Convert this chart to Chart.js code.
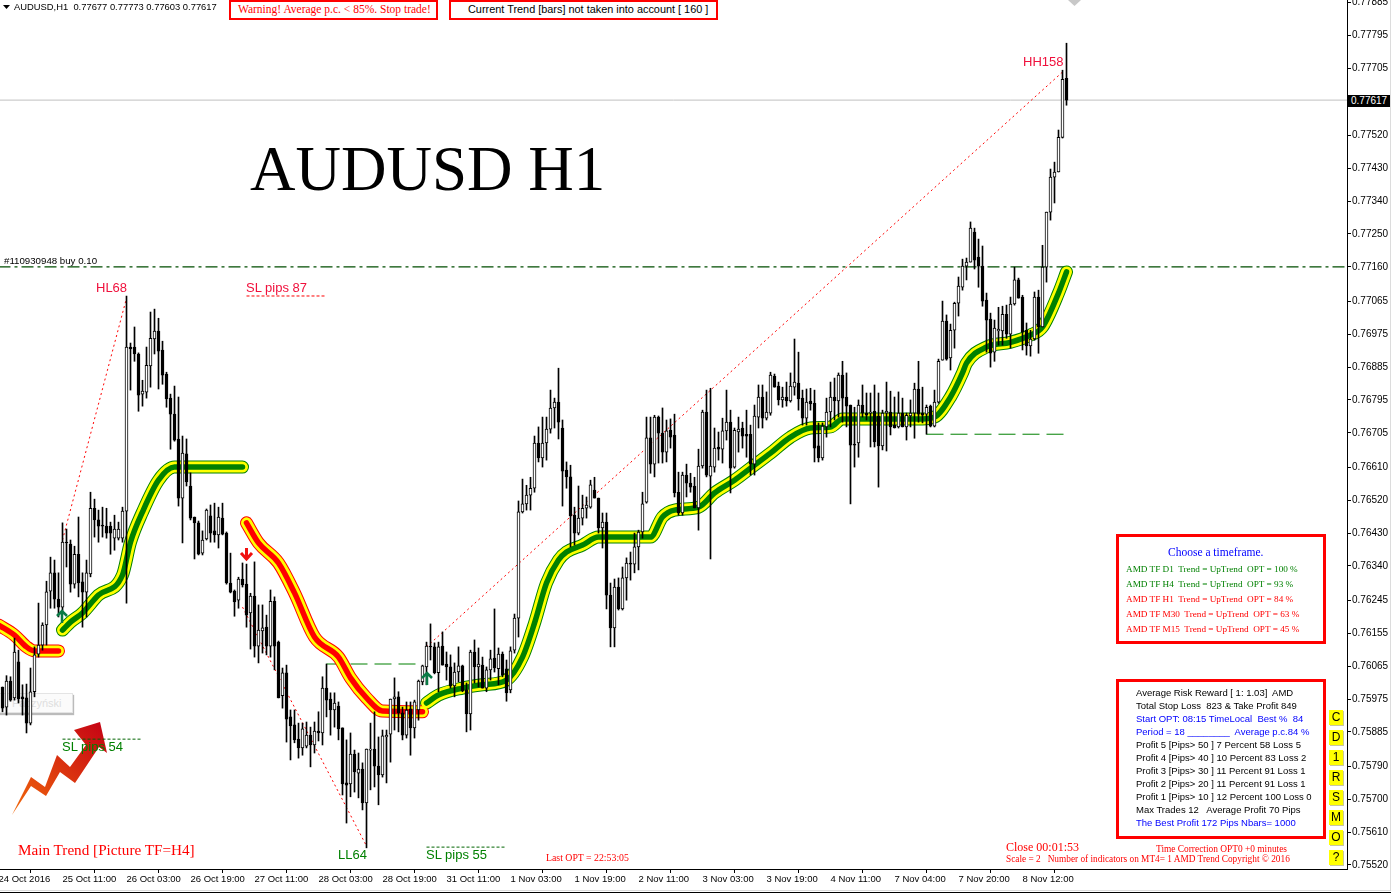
<!DOCTYPE html>
<html>
<head>
<meta charset="utf-8">
<title>AUDUSD H1</title>
<script src="https://cdn.jsdelivr.net/npm/chart.js@4"></script>
<style>
    html, body { margin: 0; background: #fff; }
    #page { position: relative; width: 1391px; height: 895px; overflow: hidden; font-family: "Liberation Sans", sans-serif; font-size: 9.5px; }
    #page canvas { position: absolute; left: 0; top: 0; }
    .t { position: absolute; white-space: pre; line-height: 12px; }
    .serif { font-family: "Liberation Serif", serif; }
    .red { color: #ff0000; }
    .pink { color: #f0103c; font-size: 13px; }
    .green { color: #008000; }
    .blue { color: #0000ff; }
    .box { position: absolute; border: 3px solid #ff0000; box-sizing: border-box; background: #fff; }
    .btn { position: absolute; left: 1329px; width: 14px; height: 15px; background: #ffff00; box-shadow: 1px 1px 0 #c8c8a0; text-align: center; font-size: 12px; line-height: 15px; }
    #stamp { position: absolute; left: -6px; top: 693px; width: 77px; height: 18px; background: #fbfbfb; border: 1px solid #e4e4e4; box-shadow: 1px 2px 1px #bbb; color: #dedede; font-size: 11px; line-height: 18px; text-indent: 17px; }
</style>
</head>
<body>
<div id="page">
    <div id="stamp">Paczyński</div>
    <svg style="position:absolute;left:0;top:0" width="1391" height="895">
        <defs>
            <linearGradient id="arrowFill" x1="0" y1="1" x2="1" y2="0">
                <stop offset="0" stop-color="#f26a0a"/>
                <stop offset="1" stop-color="#c40014"/>
            </linearGradient>
        </defs>
        <polygon fill="url(#arrowFill)" points="12,815 31,777 45,787 57,755 70,767 86,745 74,730 100,722 107,753 99,747 75,783 60,772 46,796 31,786"/>
    </svg>
    <canvas id="chart" width="1391" height="895"></canvas>
    <svg style="position:absolute;left:0;top:0" width="1391" height="895">
        <polygon fill="#c8c8c8" points="1068,0 1081,0 1074.5,6"/>
        <polygon fill="#000" points="3,5 10,5 6.5,9"/>
        <path d="M62 623V612M57 616l5-5 5 5" fill="none" stroke="#0a7a46" stroke-width="2.5"/>
        <path d="M427 685V674M422 678l5-5 5 5" fill="none" stroke="#0a7a46" stroke-width="2.5"/>
        <path d="M246.5 548V558M241 553l5.5 6 5.5-6" fill="none" stroke="#f01010" stroke-width="3"/>
        <rect x="0" y="890" width="1391" height="1" fill="#dcdcdc"/>
        <rect x="0" y="892" width="1391" height="1" fill="#000"/>
        <rect x="1390" y="0" width="1" height="891" fill="#dcdcdc"/>
    </svg>

    <div class="t" style="left:14px;top:1px;font-size:9.4px">AUDUSD,H1  0.77677 0.77773 0.77603 0.77617</div>
    <div class="box" style="left:229px;top:0;width:209px;height:20px;border-width:2px"></div>
    <div class="t serif red" style="left:238px;top:3px;font-size:11.5px">Warning! Average p.c. &lt; 85%. Stop trade!</div>
    <div class="box" style="left:449px;top:0;width:269px;height:20px;border-width:2px"></div>
    <div class="t" style="left:468px;top:3px;font-size:10.9px">Current Trend [bars] not taken into account [ 160 ]</div>

    <div class="t serif" style="left:250px;top:133px;font-size:63px;line-height:72px">AUDUSD H1</div>
    <div class="t" style="left:4px;top:255px;font-size:9.7px">#110930948 buy 0.10</div>
    <div class="t pink" style="left:1023px;top:56px">HH158</div>
    <div class="t pink" style="left:96px;top:282px">HL68</div>
    <div class="t pink" style="left:246px;top:282px">SL pips 87</div>
    <div class="t green" style="left:62px;top:741px;font-size:13px">SL pips 54</div>
    <div class="t green" style="left:338px;top:849px;font-size:13px">LL64</div>
    <div class="t green" style="left:426px;top:849px;font-size:13px">SL pips 55</div>
    <div class="t serif red" style="left:18px;top:841px;font-size:15.2px;line-height:18px">Main Trend [Picture TF=H4]</div>
    <div class="t serif red" style="left:546px;top:852px;font-size:9.8px">Last OPT = 22:53:05</div>
    <div class="t serif red" style="left:1006px;top:840px;font-size:12px;line-height:14px">Close 00:01:53</div>
    <div class="t serif red" style="left:1156px;top:843px;font-size:9.4px">Time Correction OPT0 +0 minutes</div>
    <div class="t serif red" style="left:1006px;top:853px;font-size:9.3px">Scale = 2   Number of indicators on MT4= 1 AMD Trend Copyright © 2016</div>

    <div class="box" style="left:1116px;top:534px;width:210px;height:110px"></div>
    <div class="t serif blue" style="left:1168px;top:546px;font-size:11.5px">Choose a timeframe.</div>
    <div class="t serif green" style="left:1126px;top:563px;font-size:9.2px">AMD TF D1  Trend = UpTrend  OPT = 100 %</div>
    <div class="t serif green" style="left:1126px;top:578px;font-size:9.2px">AMD TF H4  Trend = UpTrend  OPT = 93 %</div>
    <div class="t serif red" style="left:1126px;top:593px;font-size:9.2px">AMD TF H1  Trend = UpTrend  OPT = 84 %</div>
    <div class="t serif red" style="left:1126px;top:608px;font-size:9.2px">AMD TF M30  Trend = UpTrend  OPT = 63 %</div>
    <div class="t serif red" style="left:1126px;top:623px;font-size:9.2px">AMD TF M15  Trend = UpTrend  OPT = 45 %</div>

    <div class="box" style="left:1116px;top:679px;width:210px;height:160px"></div>
    <div class="t" style="left:1136px;top:687px">Average Risk Reward [ 1: 1.03]  AMD</div>
    <div class="t" style="left:1136px;top:700px">Total Stop Loss  823 &amp; Take Profit 849</div>
    <div class="t blue" style="left:1136px;top:713px">Start OPT: 08:15 TimeLocal  Best %  84</div>
    <div class="t blue" style="left:1136px;top:726px">Period = 18 ________  Average p.c.84 %</div>
    <div class="t" style="left:1136px;top:739px">Profit 5 [Pips&gt; 50 ] 7 Percent 58 Loss 5</div>
    <div class="t" style="left:1136px;top:752px">Profit 4 [Pips&gt; 40 ] 10 Percent 83 Loss 2</div>
    <div class="t" style="left:1136px;top:765px">Profit 3 [Pips&gt; 30 ] 11 Percent 91 Loss 1</div>
    <div class="t" style="left:1136px;top:778px">Profit 2 [Pips&gt; 20 ] 11 Percent 91 Loss 1</div>
    <div class="t" style="left:1136px;top:791px">Profit 1 [Pips&gt; 10 ] 12 Percent 100 Loss 0</div>
    <div class="t" style="left:1136px;top:804px">Max Trades 12   Average Profit 70 Pips</div>
    <div class="t blue" style="left:1136px;top:817px">The Best Profit 172 Pips Nbars= 1000</div>

    <div class="btn" style="top:710px">C</div>
    <div class="btn" style="top:730px">D</div>
    <div class="btn" style="top:750px">1</div>
    <div class="btn" style="top:770px">R</div>
    <div class="btn" style="top:790px">S</div>
    <div class="btn" style="top:810px">M</div>
    <div class="btn" style="top:830px">O</div>
    <div class="btn" style="top:850px">?</div>

    <div class="t" style="left:1348px;top:95px;width:42px;height:12px;background:#000;color:#fff;font-size:10px;text-indent:3px">0.77617</div>
</div>

<script>
// Candles in points (price * 100000), one entry per H1 bar
const opens = [
    76008,75953,76024,75978,76077,75981,75978,75909,75995,76098,76123,76178,76271,76321,76249,76227,
    76405,76400,76290,76372,76296,76268,76318,76498,76466,76452,76449,76449,76416,76416,76416,76490,
    76940,76940,76921,76811,76816,76888,76962,76984,76932,76866,76800,76756,76688,76526,76647,76559,
    76474,76458,76375,76414,76477,76436,76425,76471,76430,76293,76271,76246,76304,76290,76211,76257,
    76120,76162,76172,76120,76243,76131,75984,76047,75926,75904,75865,75841,75846,75876,75849,75887,
    75882,76005,75975,75945,75956,75896,75745,75742,75824,75772,75783,75690,75835,75838,75791,75767,
    75871,75879,75975,75981,75937,75876,75948,75896,75945,76022,76063,76120,76118,76047,76120,76071,
    76063,76011,76049,76066,76000,75934,76104,76063,76068,76005,76055,76087,76058,76098,76058,76000,
    76109,76197,76488,76510,76534,76553,76677,76636,76677,76715,76773,76789,76718,76603,76584,76479,
    76430,76471,76498,76501,76548,76526,76444,76460,76260,76170,76282,76222,76307,76348,76345,76392,
    76433,76515,76691,76619,76748,76704,76652,76712,76699,76542,76485,76589,76567,76559,76499,76614,
    76762,76586,76611,76666,76660,76710,76734,76611,76707,76718,76701,76701,76619,76748,76803,76745,
    76759,76860,76833,76795,76803,76792,76830,76841,76800,76745,76792,76786,76669,76636,76721,76762,
    76803,76792,76863,76803,76781,76674,76677,76781,76759,76759,76764,76751,76669,76759,76762,76726,
    76721,76759,76721,76751,76759,76825,76759,76756,76778,76723,76789,76904,77011,76910,76986,77060,
    77104,77162,77173,77255,77187,77162,77069,77017,76926,76984,76984,77030,76975,77058,77124,77077,
    76986,76943,76962,77077,76995,77159,77310,77406,77420,77515,77677
];
const highs = [
    76008,76039,76036,76142,76109,76014,76016,76060,76118,76238,76184,76298,76364,76356,76321,76458,
    76441,76411,76394,76474,76321,76356,76542,76523,76493,76501,76498,76460,76479,76460,76501,77080,
    76951,76995,76924,76849,76940,77036,77044,77019,76956,76871,76811,76833,76803,76696,76688,76595,
    76474,76463,76436,76496,76507,76512,76501,76512,76433,76375,76274,76309,76348,76345,76265,76351,
    76233,76233,76205,76274,76255,76134,76060,76068,75945,75945,75909,75909,75912,75898,75912,75940,
    76036,76071,75992,75992,75967,75896,75863,75882,75835,75827,75800,75838,75909,75940,75871,75890,
    75890,75975,76033,75995,75953,75967,75967,75972,76027,76068,76131,76181,76129,76131,76159,76104,
    76096,76074,76118,76068,76019,76109,76137,76115,76090,76063,76109,76222,76115,76104,76082,76118,
    76208,76518,76578,76561,76583,76696,76721,76748,76748,76822,76800,76882,76740,76625,76616,76501,
    76559,76534,76529,76575,76583,76526,76485,76485,76293,76304,76307,76337,76362,76378,76430,76438,
    76542,76748,76748,76753,76751,76773,76740,76743,76756,76597,76597,76619,76594,76583,76660,76767,
    76822,76827,76718,76707,76745,76822,76767,76718,76748,76734,76767,76726,76781,76836,76836,76817,
    76871,76866,76844,76830,76844,76869,76962,76926,76822,76825,76827,76822,76732,76732,76800,76844,
    76855,76869,76901,76869,76781,76775,76795,76836,76814,76814,76836,76814,76767,76844,76819,76803,
    76817,76800,76759,76795,76841,76901,76830,76781,76781,76822,76907,77066,77028,77003,77063,77132,
    77181,77184,77283,77266,77236,77217,77088,77033,77014,77049,77052,77055,77077,77159,77129,77082,
    77006,76986,77091,77096,77219,77310,77428,77447,77535,77699,77773
];
const lows = [
    75940,75931,75969,75972,75964,75931,75882,75904,75981,76090,76109,76123,76224,76224,76200,76216,
    76337,76268,76279,76255,76172,76200,76310,76419,76405,76419,76416,76372,76383,76411,76405,76238,
    76822,76901,76764,76778,76800,76830,76921,76825,76838,76775,76660,76682,76504,76403,76559,76466,
    76359,76370,76370,76411,76405,76405,76389,76425,76290,76266,76202,76224,76282,76172,76112,76090,
    76074,76101,76096,76090,76055,75978,75950,75857,75808,75855,75813,75821,75841,75789,75827,75860,
    75849,75926,75876,75898,75863,75712,75635,75707,75720,75704,75671,75567,75726,75734,75685,75761,
    75745,75802,75890,75885,75863,75868,75821,75868,75917,76014,76014,76082,76044,75995,76068,76027,
    76005,75981,76022,75995,75885,75890,76019,76008,76005,75995,76027,76049,76014,76036,75969,75992,
    76101,76145,76485,76493,76493,76542,76625,76611,76630,76704,76718,76688,76504,76553,76392,76397,
    76425,76452,76471,76498,76526,76430,76389,76222,76118,76118,76219,76219,76246,76301,76321,76329,
    76416,76512,76594,76584,76622,76622,76625,76663,76529,76479,76479,76529,76542,76499,76438,76608,
    76584,76359,76597,76630,76622,76685,76540,76608,76652,76663,76638,76589,76589,76718,76718,76740,
    76753,76830,76781,76775,76778,76789,76808,76767,76726,76726,76767,76625,76625,76630,76693,76721,
    76740,76748,76734,76721,76510,76611,76638,76748,76740,76666,76666,76556,76658,76655,76699,76718,
    76718,76721,76685,76721,76690,76734,76732,76701,76721,76721,76786,76904,76904,76877,76937,77025,
    77096,77124,77173,77154,77104,77052,76926,76885,76901,76945,76945,76964,76937,77055,77074,76932,
    76918,76915,76959,76923,76995,77118,77288,77335,77420,77513,77603
];
const closes = [
    75950,76024,75972,76104,75975,75975,75909,75995,76096,76123,76178,76269,76321,76249,76227,76405,
    76403,76290,76372,76293,76268,76321,76498,76466,76449,76449,76430,76430,76441,76441,76490,76940,
    76935,76921,76808,76819,76890,76964,76984,76929,76863,76798,76756,76685,76526,76649,76570,76471,
    76458,76372,76411,76493,76430,76425,76474,76427,76293,76268,76241,76304,76288,76205,76257,76120,
    76164,76170,76120,76243,76120,75978,76047,75920,75901,75863,75841,75893,75876,75849,75887,75882,
    76005,75972,75945,75964,75893,75742,75739,75824,75775,75783,75690,75838,75838,75791,75767,75874,
    75876,75975,75981,75937,75876,75945,75896,75967,76024,76066,76120,76118,76047,76118,76068,76063,
    76011,76049,76066,75997,75934,76104,76063,76071,76005,76055,76085,76060,76098,76041,75992,76107,
    76197,76488,76510,76534,76553,76677,76636,76677,76715,76773,76789,76734,76600,76584,76477,76430,
    76471,76498,76507,76562,76526,76444,76460,76260,76170,76282,76222,76307,76348,76345,76392,76433,
    76510,76691,76619,76748,76704,76652,76710,76693,76540,76485,76589,76567,76556,76499,76614,76762,
    76589,76614,76663,76660,76710,76734,76608,76712,76715,76696,76696,76619,76751,76803,76745,76762,
    76863,76830,76795,76803,76792,76833,76844,76798,76745,76789,76784,76663,76636,76723,76762,76803,
    76792,76863,76800,76778,76671,76671,76781,76759,76753,76762,76680,76669,76759,76764,76721,76718,
    76759,76721,76753,76759,76825,76756,76753,76775,76723,76789,76901,77011,76907,76986,77060,77107,
    77162,77173,77266,77178,77162,77066,77014,76923,76992,76989,77030,76975,77058,77124,77074,76981,
    76943,76962,77077,76995,77159,77310,77406,77420,77515,77674,77617
];

// Right axis labels and time axis labels
const priceTicks = [0.77885,0.77795,0.77705,0.7752,0.7743,0.7734,0.7725,0.7716,0.77065,0.76975,0.76885,0.76795,0.76705,0.7661,0.7652,0.7643,0.7634,0.76245,0.76155,0.76065,0.75975,0.75885,0.7579,0.757,0.7561,0.7552];
const timeBars = [-1,15,31,47,63,79,95,111,127,143,159,175,191,207,223,239,255];
const timeLabels = ['24 Oct 2016','25 Oct 11:00','26 Oct 03:00','26 Oct 19:00','27 Oct 11:00','28 Oct 03:00','28 Oct 19:00','31 Oct 11:00','1 Nov 03:00','1 Nov 19:00','2 Nov 11:00','3 Nov 03:00','3 Nov 19:00','4 Nov 11:00','7 Nov 04:00','7 Nov 20:00','8 Nov 12:00'];

// Trend ribbon, bar index and level in points
const redBars1 = [-1,3,6,8,14];
const redLevels1 = [76178,76150,76118,76107,76107];
const greenBars1 = [15,17,20,24,30,32,35,39,43,60];
const greenLevels1 = [76164,76186,76211,76260,76315,76405,76488,76575,76611,76611];
const redBars2 = [61,64,69,73,78,84,87,91,95,105];
const redLevels2 = [76458,76403,76348,76266,76145,76090,76033,75978,75942,75940];
const greenBars2 = [106,109,115,120,126,130,133,136,139,141,145,149,162,165,168,174,178,183,187,192,197,202,207,210,220,230,233,237,240,241,246,252,257,260,264,266];
const greenLevels2 = [75964,75986,76005,76014,76027,76090,76183,76293,76356,76378,76397,76419,76419,76474,76493,76501,76540,76575,76608,76649,76693,76718,76721,76743,76743,76743,76748,76803,76869,76896,76940,76953,76973,76995,77088,77146];

// Straight levels and swing lines: [bar, points, bar, points]
const swingHL = [15,76411,31,77074];
const swingLL = [60,76227,91,75572];
const swingHH = [106,76118,265,77694];
const stopRed = [61,77080,81,77080];
const stopGreen1 = [15,75865,35,75865];
const stopGreen2 = [106,75569,126,75569];
const targetLow = [81,76071,104,76071];
const targetHigh = [231,76701,266,76701];
const bidLevel = [-1,77617,337,77617];
const tradeLevel = [-1,77160,337,77160];

const toPrice = v => v / 100000;

function ribbonLayer(bars, levels, color, width, order) {
    return {
        type: 'line',
        data: bars.map((b, i) => ({ x: b, y: toPrice(levels[i]) })),
        borderColor: color,
        borderWidth: width,
        borderCapStyle: 'round',
        borderJoinStyle: 'round',
        cubicInterpolationMode: 'monotone',
        pointRadius: 0,
        order: order
    };
}

function ribbon(bars, levels, color) {
    return [
        ribbonLayer(bars, levels, color, 13, 7),
        ribbonLayer(bars, levels, '#ffff00', 11, 6),
        ribbonLayer(bars, levels, color, 5.5, 5)
    ];
}

function segment(p, color, dash, order, width) {
    return {
        type: 'line',
        data: [{ x: p[0], y: toPrice(p[1]) }, { x: p[2], y: toPrice(p[3]) }],
        borderColor: color,
        borderWidth: width || 1,
        borderDash: dash,
        pointRadius: 0,
        order: order || 8
    };
}

// Scale sizes are fixed, labels must not push the plot area inwards
function fixScale(axis, prop, size) {
    axis[prop] = size;
    axis.paddingLeft = axis.paddingRight = axis.paddingTop = axis.paddingBottom = 0;
}

const wicks = {
    type: 'bar',
    data: highs.map((h, i) => ({ x: i, y: [toPrice(lows[i]), toPrice(h)] })),
    backgroundColor: '#000',
    barThickness: 1,
    grouped: false,
    order: 2
};

const bodies = {
    type: 'bar',
    data: opens.map((o, i) => ({ x: i, y: [toPrice(o), toPrice(closes[i])] })),
    backgroundColor: opens.map((o, i) => closes[i] >= o ? '#fff' : '#000'),
    borderColor: '#000',
    borderWidth: 1,
    borderSkipped: false,
    barThickness: 3,
    grouped: false,
    order: 1
};

new Chart(document.getElementById('chart'), {
    data: {
        datasets: [
            bodies,
            wicks,
            ...ribbon(redBars1, redLevels1, '#ff0000'),
            ...ribbon(greenBars1, greenLevels1, '#008000'),
            ...ribbon(redBars2, redLevels2, '#ff0000'),
            ...ribbon(greenBars2, greenLevels2, '#008000'),
            segment(swingHL, '#ff0000', [2, 3]),
            segment(swingLL, '#ff0000', [2, 3]),
            segment(swingHH, '#ff0000', [2, 3]),
            segment(stopRed, '#ff0000', [3, 2]),
            segment(stopGreen1, '#006400', [3, 2]),
            segment(stopGreen2, '#006400', [3, 2]),
            segment(targetLow, '#008000', [17, 7]),
            segment(targetHigh, '#008000', [17, 7]),
            segment(bidLevel, '#c0c0c0', [], 9),
            segment(tradeLevel, '#004d00', [12, 4, 3, 4], 9, 1.2)
        ]
    },
    options: {
        responsive: false,
        animation: false,
        devicePixelRatio: 1,
        layout: { padding: 0, autoPadding: false },
        plugins: { legend: { display: false }, tooltip: { enabled: false } },
        events: [],
        scales: {
            x: {
                type: 'linear',
                min: -0.625,
                max: 336.125,
                offset: false,
                grid: { drawOnChartArea: false, color: '#000', tickLength: 4 },
                border: { color: '#000', width: 1 },
                afterBuildTicks: axis => { axis.ticks = timeBars.map(v => ({ value: v })); },
                afterFit: axis => fixScale(axis, 'height', 26),
                ticks: {
                    autoSkip: false,
                    maxRotation: 0,
                    align: 'start',
                    padding: 1,
                    color: '#000',
                    font: { family: 'Liberation Sans', size: 9.5 },
                    callback: (value, i) => timeLabels[i]
                }
            },
            y: {
                type: 'linear',
                position: 'right',
                min: 0.75509,
                max: 0.778915,
                grid: { drawOnChartArea: false, color: '#000', tickLength: 4 },
                border: { color: '#000', width: 1 },
                afterBuildTicks: axis => { axis.ticks = priceTicks.map(v => ({ value: v })); },
                afterFit: axis => fixScale(axis, 'width', 44),
                ticks: {
                    autoSkip: false,
                    padding: 1,
                    color: '#000',
                    font: { family: 'Liberation Sans', size: 10 },
                    callback: value => value.toFixed(5)
                }
            }
        }
    }
});
</script>
</body>
</html>
